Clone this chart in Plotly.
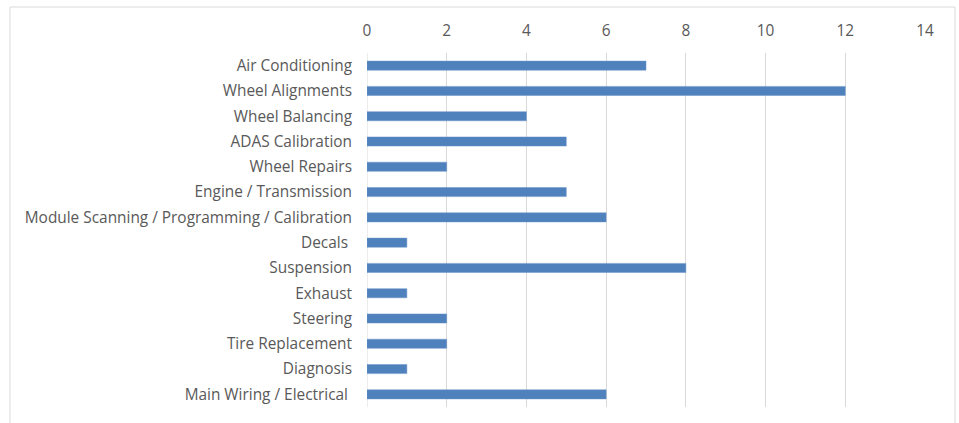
import plotly.graph_objects as go

categories = ["Air Conditioning", "Wheel Alignments", "Wheel Balancing", "ADAS Calibration",
              "Wheel Repairs", "Engine / Transmission", "Module Scanning / Programming / Calibration",
              "Decals\u00a0", "Suspension", "Exhaust", "Steering", "Tire Replacement", "Diagnosis",
              "Main Wiring / Electrical\u00a0"]
values = [7, 12, 4, 5, 2, 5, 6, 1, 8, 1, 2, 2, 1, 6]
x_ticks = [0, 2, 4, 6, 8, 10, 12, 14]

fig = go.Figure(go.Bar(
    x=values, y=categories, orientation="h", width=0.36,
    marker=dict(color="#4F81BD", line=dict(color="#6a95c9", width=0.5)),
))

FONT = "'Open Sans', Lato, sans-serif"
fig.update_layout(
    width=959, height=423,
    margin=dict(l=367, r=34, t=53, b=16),
    paper_bgcolor="white", plot_bgcolor="white",
    showlegend=False,
    font=dict(family=FONT, size=15.4, color="#595959"),
    xaxis=dict(side="top", range=[0, 14], tickvals=x_ticks, showgrid=True,
               gridcolor="#d9d9d9", gridwidth=1, zeroline=False, showline=False,
               ticks="", ticklabelstandoff=13, tickfont=dict(size=15.4, color="#595959")),
    yaxis=dict(autorange="reversed", showgrid=False, showline=False, ticks="",
               ticklabelstandoff=14, tickfont=dict(size=15.4, color="#595959")),
    shapes=[dict(type="rect", xref="paper", yref="paper",
                 x0=(10 - 367) / 558, x1=(955 - 367) / 558,
                 y0=-0.2, y1=1 + (53 - 7) / 354,
                 line=dict(color="#d9d9d9", width=1), fillcolor="rgba(0,0,0,0)", layer="below")],
)
fig.add_shape(type="line", xref="x", yref="paper", x0=0, x1=0, y0=0, y1=1,
              line=dict(color="#d9d9d9", width=1), layer="below")

fig.write_html("out.html")
